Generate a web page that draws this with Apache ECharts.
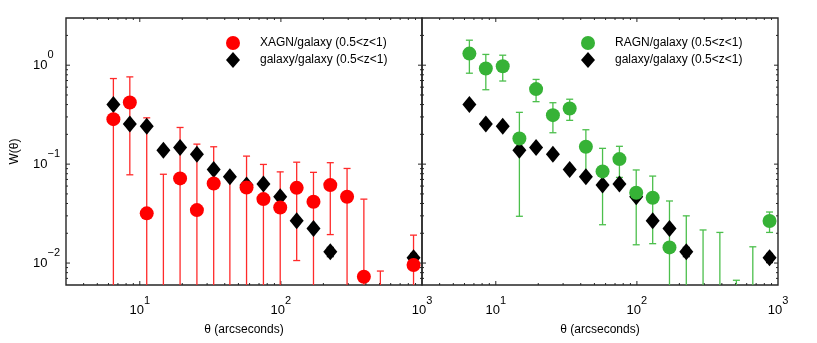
<!DOCTYPE html>
<html>
<head>
<meta charset="utf-8">
<script src="https://cdn.jsdelivr.net/npm/echarts@6/dist/echarts.min.js"></script>
<style>
  html, body { margin: 0; padding: 0; background: #fff; }
  #chart { width: 817px; height: 343px; }
</style>
</head>
<body>
<div id="chart"></div>
<script>
// angular bins (arcsec), shared by both panels
const theta = [6.5, 8.5, 11.2, 14.7, 19.3, 25.4, 33.4, 43.5, 57.1, 75.2, 98.9, 129.4, 170.2, 223.9, 294.4, 387.3, 507, 663, 871]

// galaxy/galaxy (same in both panels)
const galW   = [0.401, 0.254, 0.242, 0.1385, 0.147, 0.126, 0.0883, 0.0745, 0.0614, 0.0628, 0.0468, 0.0268, 0.0224, 0.013, null, null, null, null, 0.0113]
const galErr = [0.02, 0.012, 0.012, 0.008, 0.008, 0.007, 0.005, 0.004, 0.003, 0.003, 0.003, 0.002, 0.002, 0.0014, null, null, null, null, 0.0012]

// XAGN/galaxy (negative values fall off the log axis, only the bar shows)
const xagnW   = [0.285, 0.42, 0.0318, -0.01, 0.0717, 0.0343, 0.0638, -0.01, 0.058, 0.0443, 0.0365, 0.0576, 0.0416, 0.0614, 0.0468, 0.00727, -0.003, null, 0.00955]
const xagnErr = [0.448, 0.342, 0.262, 0.089, 0.163, 0.125, 0.086, 0.086, 0.0625, 0.055, 0.047, 0.047, 0.041, 0.042, 0.0436, 0.037, 0.0113, null, 0.0096]

// RAGN/galaxy
const ragnW   = [1.31, 0.925, 0.977, 0.1817, 0.573, 0.3126, 0.365, 0.1496, 0.0844, 0.1124, 0.0513, 0.0457, 0.0144, -0.005, -0.005, -0.005, -0.002, -0.005, 0.0266]
const ragnErr = [0.48, 0.36, 0.285, 0.152, 0.145, 0.105, 0.088, 0.073, 0.06, 0.039, 0.036, 0.030, 0.028, 0.035, 0.0266, 0.0254, 0.0087, 0.0196, 0.0062]

// axis ranges and tick values
const xRange = [3, 1000]
const yRange = [0.006, 3]
const xMajor = [10, 100]
const xMinor = [4, 5, 6, 7, 8, 9, 20, 30, 40, 50, 60, 70, 80, 90, 200, 300, 400, 500, 600, 700, 800, 900]
const yMajor = [0.01, 0.1, 1]
const yMinor = [0.007, 0.008, 0.009, 0.02, 0.03, 0.04, 0.05, 0.06, 0.07, 0.08, 0.09, 0.2, 0.3, 0.4, 0.5, 0.6, 0.7, 0.8, 0.9, 2]

const FONT = 'Liberation Sans, Arial, Helvetica, sans-serif'
const RED = '#ff0000'
const GREEN = '#36b236'
const FRAME = '#262626'

const points = (w) => theta.map((t, i) => [t, w[i]]).filter(d => d[1] != null && d[1] > 0)
const bars = (w, e) => theta.map((t, i) => [t, w[i], e[i]])
  .filter(d => d[1] != null && d[2] != null)
  .map(d => [d[0], d[1] + d[2], d[1] - d[2]])

function errorBar(color, width) {
  return (params, api) => {
    const x = api.value(0)
    const lo = api.value(2)
    const hi = api.coord([x, api.value(1)])
    const hasLo = lo > 0
    const bot = api.coord([x, hasLo ? Math.max(lo, yRange[0]) : yRange[0]])
    const cw = 3.5
    const children = [
      { type: 'line', shape: { x1: hi[0], y1: hi[1], x2: bot[0], y2: bot[1] }, style: { stroke: color, lineWidth: width } },
      { type: 'line', shape: { x1: hi[0] - cw, y1: hi[1], x2: hi[0] + cw, y2: hi[1] }, style: { stroke: color, lineWidth: width } }
    ]
    if (hasLo && lo > yRange[0]) {
      children.push({ type: 'line', shape: { x1: bot[0] - cw, y1: bot[1], x2: bot[0] + cw, y2: bot[1] }, style: { stroke: color, lineWidth: width } })
    }
    return { type: 'group', children }
  }
}

function xTicks(params, api) {
  const v = api.value(0), len = api.value(2)
  const b = api.coord([v, yRange[0]]), t = api.coord([v, yRange[1]])
  const st = { stroke: FRAME, lineWidth: 1 }
  return { type: 'group', children: [
    { type: 'line', shape: { x1: b[0], y1: b[1], x2: b[0], y2: b[1] - len }, style: st },
    { type: 'line', shape: { x1: t[0], y1: t[1], x2: t[0], y2: t[1] + len }, style: st }
  ] }
}

function yTicks(params, api) {
  const v = api.value(1), len = api.value(2)
  const l = api.coord([xRange[0], v]), r = api.coord([xRange[1], v])
  const st = { stroke: FRAME, lineWidth: 1 }
  return { type: 'group', children: [
    { type: 'line', shape: { x1: l[0], y1: l[1], x2: l[0] + len, y2: l[1] }, style: st },
    { type: 'line', shape: { x1: r[0], y1: r[1], x2: r[0] - len, y2: r[1] }, style: st }
  ] }
}

const xTickData = xMajor.map(v => [v, 0.01, 4]).concat(xMinor.map(v => [v, 0.01, 2]))
const yTickData = yMajor.map(v => [10, v, 4]).concat(yMinor.map(v => [10, v, 2]))

function powLabel(v) {
  const e = Math.log10(v)
  const r = Math.round(e)
  if (Math.abs(e - r) > 1e-6) return ''
  return '{b|10}{s|' + (r < 0 ? '\u2212' + (-r) : r) + '}'
}
const labelRich = {
  b: { fontSize: 13, fontFamily: FONT, color: '#000' },
  s: { fontSize: 11, fontFamily: FONT, color: '#000', padding: [0, 0, 20, 0] }
}

function xAxisFor(gridIndex) {
  return {
    type: 'log', gridIndex, min: xRange[0], max: xRange[1],
    axisLine: { show: false }, axisTick: { show: false }, splitLine: { show: false },
    axisLabel: { formatter: powLabel, rich: labelRich, margin: 10 },
    name: '\u03b8 (arcseconds)', nameLocation: 'middle', nameGap: 39,
    nameTextStyle: { fontSize: 12, fontFamily: FONT, color: '#000' }
  }
}

function yAxisFor(gridIndex, labels) {
  return {
    type: 'log', gridIndex, min: yRange[0], max: yRange[1],
    axisLine: { show: false }, axisTick: { show: false }, splitLine: { show: false },
    axisLabel: { show: labels, formatter: powLabel, rich: labelRich, align: 'left', margin: 33 },
    name: labels ? 'W(\u03b8)' : '', nameLocation: 'middle', nameGap: 45, nameRotate: 90,
    nameTextStyle: { fontSize: 12, fontFamily: FONT, color: '#000' }
  }
}

const legendBase = {
  orient: 'vertical', itemWidth: 14, itemHeight: 16, itemGap: 2, top: 31,
  selectedMode: false,
  textStyle: { fontSize: 12, fontFamily: FONT, color: '#000', padding: [0, 0, 0, 15] }
}

const tickSeries = (i) => [
  { type: 'custom', xAxisIndex: i, yAxisIndex: i, renderItem: xTicks, data: xTickData, silent: true, encode: { x: 0, y: 1 } },
  { type: 'custom', xAxisIndex: i, yAxisIndex: i, renderItem: yTicks, data: yTickData, silent: true, encode: { x: 0, y: 1 } }
]

const GAL = 'galaxy/galaxy (0.5<z<1)'
const XAGN = 'XAGN/galaxy (0.5<z<1)'
const RAGN = 'RAGN/galaxy (0.5<z<1)'

const option = {
  animation: false,
  backgroundColor: '#fff',
  textStyle: { fontFamily: FONT },
  grid: [
    { left: 66, top: 18, width: 356, height: 267, show: true, borderColor: FRAME, borderWidth: 1.4, backgroundColor: 'transparent' },
    { left: 422, top: 18, width: 356, height: 267, show: true, borderColor: FRAME, borderWidth: 1.4, backgroundColor: 'transparent' }
  ],
  xAxis: [xAxisFor(0), xAxisFor(1)],
  yAxis: [yAxisFor(0, true), yAxisFor(1, false)],
  legend: [
    Object.assign({}, legendBase, { left: 221, data: [XAGN, GAL] }),
    Object.assign({}, legendBase, { left: 576, data: [RAGN, GAL] })
  ],
  series: [
    ...tickSeries(0),
    ...tickSeries(1),
    // left panel
    { type: 'custom', name: 'galErrL', xAxisIndex: 0, yAxisIndex: 0, renderItem: errorBar('#000', 1.2), data: bars(galW, galErr), encode: { x: 0, y: 1 } },
    { type: 'custom', name: 'xagnErr', xAxisIndex: 0, yAxisIndex: 0, renderItem: errorBar('#ff2a2a', 1.3), data: bars(xagnW, xagnErr), encode: { x: 0, y: 1 } },
    { type: 'scatter', name: GAL, xAxisIndex: 0, yAxisIndex: 0, symbol: 'diamond', symbolSize: [14, 17], itemStyle: { color: '#000', opacity: 1 }, data: points(galW) },
    { type: 'scatter', name: XAGN, xAxisIndex: 0, yAxisIndex: 0, symbol: 'circle', symbolSize: 14, itemStyle: { color: RED, opacity: 1 }, data: points(xagnW) },
    // right panel
    { type: 'custom', name: 'galErrR', xAxisIndex: 1, yAxisIndex: 1, renderItem: errorBar('#000', 1.2), data: bars(galW, galErr), encode: { x: 0, y: 1 } },
    { type: 'scatter', name: GAL, xAxisIndex: 1, yAxisIndex: 1, symbol: 'diamond', symbolSize: [14, 17], itemStyle: { color: '#000', opacity: 1 }, data: points(galW) },
    { type: 'custom', name: 'ragnErr', xAxisIndex: 1, yAxisIndex: 1, renderItem: errorBar('#4cbf4c', 1.3), data: bars(ragnW, ragnErr), encode: { x: 0, y: 1 } },
    { type: 'scatter', name: RAGN, xAxisIndex: 1, yAxisIndex: 1, symbol: 'circle', symbolSize: 14, itemStyle: { color: GREEN, opacity: 1 }, data: points(ragnW) }
  ]
}

const chart = echarts.init(document.getElementById('chart'), null, { renderer: 'canvas' })
chart.setOption(option)
</script>
</body>
</html>
